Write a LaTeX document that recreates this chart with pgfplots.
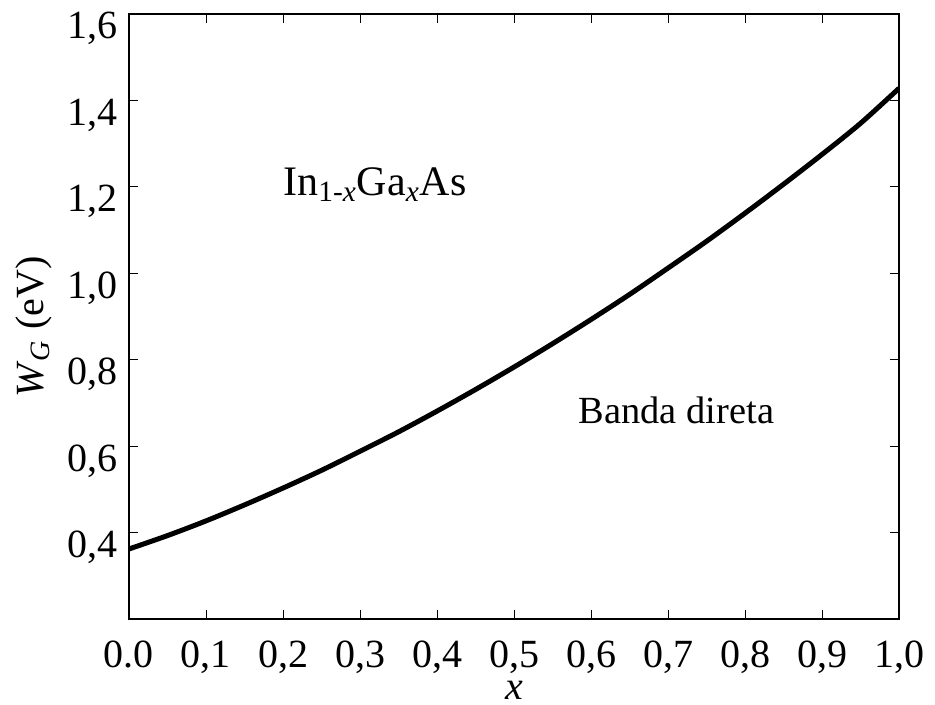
\documentclass[border=0pt]{standalone}
\usepackage{fontspec}
\setmainfont{Liberation Serif}
\usepackage{pgfplots}
\pgfplotsset{compat=1.18}

% band gap of In(1-x)Ga(x)As
\pgfplotstableread{
x     wg
0.00  0.362
0.05  0.393
0.10  0.427
0.15  0.464
0.20  0.503
0.25  0.544
0.30  0.588
0.35  0.633
0.40  0.681
0.45  0.731
0.50  0.783
0.55  0.837
0.60  0.893
0.65  0.951
0.70  1.012
0.75  1.074
0.80  1.139
0.85  1.206
0.90  1.275
0.95  1.347
1.00  1.428
}\gapdata

\begin{document}
\begin{tikzpicture}
\begin{axis}[
    scale only axis,
    width=385pt, height=302.5pt,
    xmin=0, xmax=1,
    ymin=0.2, ymax=1.6,
    axis line style={line width=1pt},
    tick style={line width=0.5pt, black},
    major tick length=4.5pt,
    tick align=inside,
    xtick={0,0.1,...,1.0},
    xticklabels={0.0,{0,1},{0,2},{0,3},{0,4},{0,5},{0,6},{0,7},{0,8},{0,9},{1,0}},
    ytick={0.4,0.6,...,1.6},
    yticklabels={{0,4},{0,6},{0,8},{1,0},{1,2},{1,4},{1,6}},
    tick label style={font=\fontsize{20}{24}\selectfont, inner sep=0pt},
    xticklabel style={anchor=base, yshift=-24.5pt},
    yticklabel style={anchor=base east, xshift=-5.5pt, yshift=-12.5pt},
]
\addplot[black, line width=2.5pt, smooth] table[x=x, y=wg] {\gapdata};

\node[anchor=base, font=\fontsize{21}{25}\selectfont]
    at (axis cs:0.3195,1.181) {In\textsubscript{1-\textit{x}}Ga\textsubscript{\textit{x}}As};
\node[anchor=base, font=\fontsize{19.2}{23}\selectfont]
    at (axis cs:0.711,0.652) {Banda direta};

\coordinate (xlab) at (rel axis cs:0.5,0);
\coordinate (ylab) at (rel axis cs:0,0.5);
\end{axis}
\node[anchor=base, inner sep=0pt, font=\fontsize{20}{24}\selectfont]
    at ([yshift=-40.5pt]xlab) {\textit{x}};
\node[anchor=center, rotate=90, font=\fontsize{20}{24}\selectfont]
    at ([xshift=-47.5pt, yshift=-5.25pt]ylab) {\textit{W}\textsubscript{\textit{G}} (eV)};
\pgfresetboundingbox
\path (current axis.south west) ++(-64.5pt,-43pt) coordinate (bl);
\path (current axis.north east) ++(18pt,7pt) coordinate (tr);
\path[use as bounding box] (bl) rectangle (tr);
\end{tikzpicture}
\end{document}
